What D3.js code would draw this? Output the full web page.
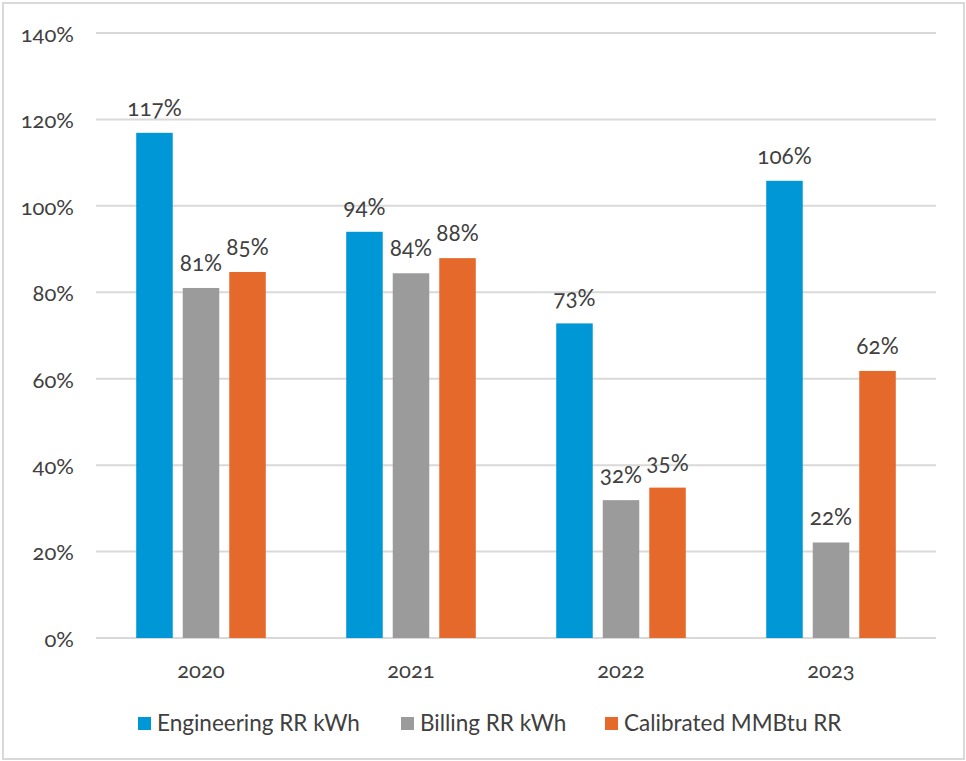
<!DOCTYPE html>
<html>
<head>
<meta charset="utf-8">
<script src="https://cdn.jsdelivr.net/npm/d3@7"></script>
<style>
  body { margin: 0; background: #fff; }
  svg text { font-family: Lato, "Open Sans", sans-serif; fill: #404040; font-variant-numeric: oldstyle-nums; }
</style>
</head>
<body>
<svg id="chart" width="966" height="761"></svg>
<script>
// values (percent)
var years = ["2020", "2021", "2022", "2023"];
var seriesNames = ["Engineering RR kWh", "Billing RR kWh", "Calibrated MMBtu RR"];
var engineering = [116.9, 94.0, 72.8, 105.8];
var billing = [81.0, 84.4, 31.9, 22.1];
var calibrated = [84.7, 87.9, 34.8, 61.8];
var yTicks = [0, 20, 40, 60, 80, 100, 120, 140];
var colors = ["#0097d7", "#9b9b9b", "#e5692b"];

var series = [engineering, billing, calibrated];
var data = years.map(function(y, i) {
    return { year: y, values: series.map(function(s, j) { return { key: seriesNames[j], value: s[i] }; }) };
});

var svg = d3.select("#chart");

// outer frame
svg.append("rect")
    .attr("x", 3).attr("y", 3)
    .attr("width", 961).attr("height", 756)
    .attr("fill", "none")
    .attr("stroke", "#d9d9d9")
    .attr("stroke-width", 2);

var plotLeft = 96, plotRight = 936, plotTop = 33, plotBottom = 638;

var y = d3.scaleLinear().domain([0, 140]).range([plotBottom, plotTop]);

var x0 = d3.scaleBand()
    .domain(years)
    .range([plotLeft, plotRight])
    .paddingInner(0.383)
    .paddingOuter(0.1915);

var x1 = d3.scaleBand()
    .domain(seriesNames)
    .range([0, x0.bandwidth()])
    .paddingInner(0.215);

var color = d3.scaleOrdinal().domain(seriesNames).range(colors);

// gridlines
svg.append("g")
    .selectAll("line")
    .data(yTicks)
    .enter().append("line")
    .attr("x1", plotLeft).attr("x2", plotRight)
    .attr("y1", function(d) { return y(d); })
    .attr("y2", function(d) { return y(d); })
    .attr("stroke", "#d9d9d9")
    .attr("stroke-width", 2);

// y labels
svg.append("g")
    .selectAll("text")
    .data(yTicks)
    .enter().append("text")
    .attr("x", 74)
    .attr("y", function(d) { return y(d); })
    .attr("dy", "0.4em")
    .attr("text-anchor", "end")
    .attr("font-size", 22)
    .text(function(d) { return d + "%"; });

var groups = svg.append("g")
    .selectAll("g")
    .data(data)
    .enter().append("g")
    .attr("transform", function(d) { return "translate(" + x0(d.year) + ",0)"; });

groups.selectAll("rect")
    .data(function(d) { return d.values; })
    .enter().append("rect")
    .attr("x", function(d) { return x1(d.key); })
    .attr("width", x1.bandwidth())
    .attr("y", function(d) { return y(d.value); })
    .attr("height", function(d) { return plotBottom - y(d.value); })
    .attr("fill", function(d) { return color(d.key); });

groups.selectAll("text")
    .data(function(d) { return d.values; })
    .enter().append("text")
    .attr("x", function(d) { return x1(d.key) + x1.bandwidth() / 2; })
    .attr("y", function(d) { return y(d.value) - 17; })
    .attr("text-anchor", "middle")
    .attr("font-size", 22.5)
    .text(function(d) { return Math.round(d.value) + "%"; });

// year labels
svg.append("g")
    .selectAll("text")
    .data(years)
    .enter().append("text")
    .attr("x", function(d) { return x0(d) + x0.bandwidth() / 2; })
    .attr("y", 678)
    .attr("text-anchor", "middle")
    .attr("font-size", 22)
    .text(function(d) { return d; });

// legend
var legendX = [138, 401, 605];
var legend = svg.append("g")
    .selectAll("g")
    .data(seriesNames)
    .enter().append("g")
    .attr("transform", function(d, i) { return "translate(" + legendX[i] + ",717)"; });

legend.append("rect")
    .attr("width", 13).attr("height", 13)
    .attr("fill", function(d) { return color(d); });

legend.append("text")
    .attr("x", 19)
    .attr("y", 13.5)
    .attr("font-size", 22.5)
    .text(function(d) { return d; });
</script>
</body>
</html>
